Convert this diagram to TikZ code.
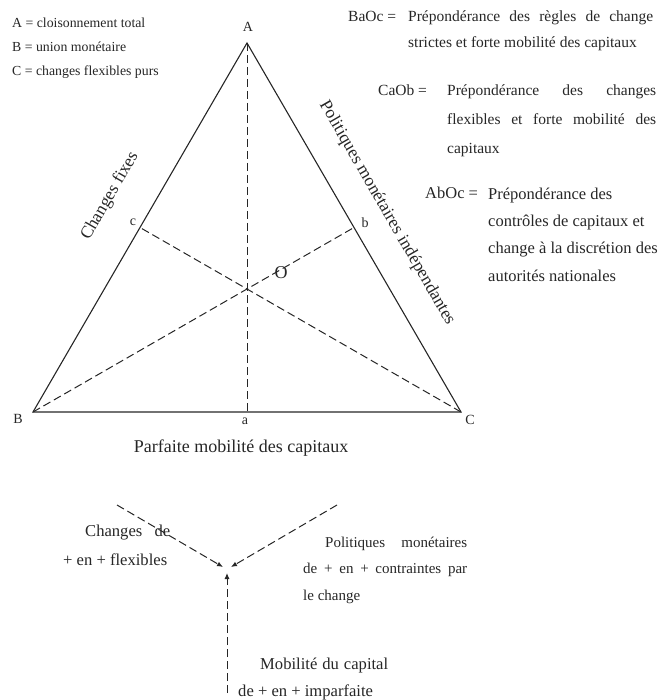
\documentclass[tikz,border=0pt]{standalone}
\usepackage{fontspec}
\setmainfont{Liberation Serif}
\usepackage{tikz}
\usetikzlibrary{arrows.meta}
\newcommand{\fsz}[2]{\fontsize{#1}{#2}\selectfont}

\begin{document}
\begin{tikzpicture}[x=1pt,y=-1pt,
  every node/.style={text=black!85},
  para/.style={anchor=north west,inner sep=0pt,align=left},
  key/.style={anchor=base west,inner sep=0pt},
  lbl/.style={font=\fsz{14}{16}},
  side/.style={draw=black!85,line width=1.1pt},
  dashline/.style={draw=black!85,line width=1pt,dash pattern=on 8pt off 4pt},
  arrow/.style={dashline,-{Latex[length=6pt,width=5pt]}}
]
  \useasboundingbox (0,0) rectangle (660,700);

  % triangle and its medians
  \coordinate (A) at (247,43);
  \coordinate (B) at (33,412);
  \coordinate (C) at (461,412);
  \coordinate (a) at (247,412);
  \coordinate (b) at (354,227.5);
  \coordinate (c) at (140,227.5);
  \draw[side] (A) -- (B) -- (C) -- cycle;
  \draw[dashline] (A) -- (a);
  \draw[dashline] (B) -- (b);
  \draw[dashline] (C) -- (c);

  \node[lbl] (lA) at (248,27) {A};
  \node[lbl] (lB) at (18,419) {B};
  \node[lbl] (lC) at (470,420) {C};
  \node[lbl] (la) at (245,421) {a};
  \node[lbl] (lb) at (365,223) {b};
  \node[lbl] (lc) at (133,222) {c};
  \node[font=\fsz{18}{20}] (lO) at (281,273) {O};

  \node[font=\fsz{17.5}{20},rotate=60] (fixes) at (110,196) {Changes fixes};
  \node[font=\fsz{17.5}{20},rotate=-60] (indep) at (387,213) {Politiques monétaires indépendantes};
  \node[font=\fsz{18}{20}] (parf) at (241,448) {Parfaite mobilité des capitaux};

  % legend
  \node[para,font=\fsz{13.8}{23.7}] (legend) at (12,18) {A = cloisonnement total\\ B = union monétaire\\ C = changes flexibles purs};

  \node[key,font=\fsz{15.5}{26}] (BaOc) at (348,22) {BaOc =};
  \node[para,font=\fsz{15.5}{26}] (BaOcTxt) at (408,11) {\makebox[245pt][s]{Prépondérance des règles de change}\\ strictes et forte mobilité des capitaux};

  \node[key,font=\fsz{15.5}{29}] (CaOb) at (378,96) {CaOb =};
  \node[para,font=\fsz{15.5}{29}] (CaObTxt) at (447,85) {\makebox[209pt][s]{Prépondérance des changes}\\ \makebox[209pt][s]{flexibles et forte mobilité des}\\ capitaux};

  \node[key,font=\fsz{16.5}{27.3}] (AbOc) at (425,199) {AbOc =};
  \node[para,font=\fsz{16.5}{27.3}] (AbOcTxt) at (488,187.5) {Prépondérance des\\ contrôles de capitaux et\\ change à la discrétion des\\ autorités nationales};

  % converging arrows
  \coordinate (fl) at (117,505);
  \coordinate (pm) at (337,505);
  \coordinate (mc) at (227,693);
  \coordinate (flTip) at (223,567);
  \coordinate (pmTip) at (231,567);
  \coordinate (mcTip) at (227,573);
  \draw[arrow] (fl) -- (flTip);
  \draw[arrow] (pm) -- (pmTip);
  \draw[arrow] (mc) -- (mcTip);

  \node[para,font=\fsz{16.6}{29}] (flex) at (63,525) {\hspace*{22pt}\makebox[85pt][s]{Changes de}\\ + en + flexibles};
  \node[para,font=\fsz{15}{26.5}] (contr) at (303,536.5) {\hspace*{22pt}\makebox[142pt][s]{Politiques monétaires}\\ \makebox[164pt][s]{de + en + contraintes par}\\ le change};
  \node[para,font=\fsz{16.6}{27}] (impar) at (238,657.5) {\hspace*{22pt}\makebox[128pt][s]{Mobilité du capital}\\ de + en + imparfaite};
\end{tikzpicture}
\end{document}
